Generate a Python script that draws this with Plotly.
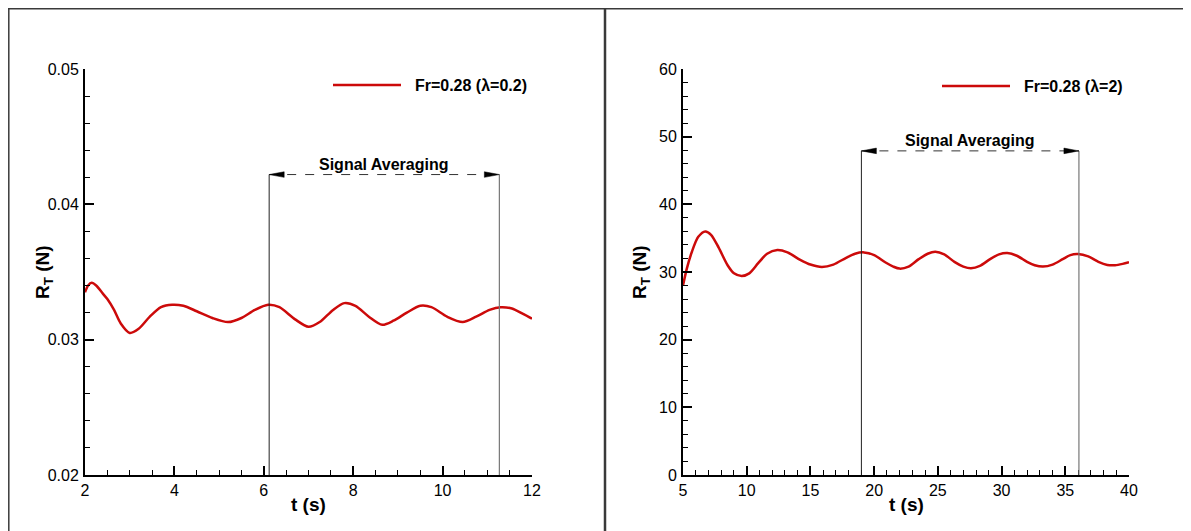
import plotly.graph_objects as go

# ---------------- data ----------------
t_left = [2.0, 2.07, 2.15, 2.25, 2.4, 2.5, 2.65, 2.8, 3.0, 3.2, 3.45, 3.7, 3.95, 4.2, 4.5,
          4.85, 5.2, 5.5, 5.8, 6.1, 6.35, 6.7, 7.0, 7.25, 7.55, 7.8, 8.05, 8.35, 8.65,
          8.9, 9.2, 9.5, 9.75, 10.1, 10.45, 10.75, 11.05, 11.3, 11.55, 11.8, 12.0]
rt_left = [0.0335, 0.0340, 0.0342, 0.0340, 0.0334, 0.0330, 0.0322, 0.0312, 0.0305, 0.0308,
           0.0317, 0.0324, 0.03258, 0.0325, 0.0321, 0.0316, 0.0313, 0.0316, 0.0322, 0.03258,
           0.0324, 0.0315, 0.03095, 0.0313, 0.0322, 0.0327, 0.0325, 0.0317, 0.0311, 0.0314,
           0.0320, 0.0325, 0.0324, 0.0317, 0.0313, 0.0317, 0.0322, 0.0324, 0.0323, 0.0319,
           0.03155]

t_right = [5.0, 5.3, 5.7, 6.2, 6.75, 7.2, 7.8, 8.5, 9.0, 9.6, 10.2, 10.9, 11.6, 12.4, 13.2,
           14.2, 15.0, 15.9, 16.8, 17.8, 18.5, 19.2, 20.0, 20.9, 21.5, 22.0, 22.7, 23.5,
           24.2, 24.8, 25.5, 26.3, 27.0, 27.6, 28.3, 29.1, 29.8, 30.45, 31.2, 32.0, 32.6,
           33.25, 34.0, 34.8, 35.4, 36.0, 36.8, 37.6, 38.3, 38.9, 39.5, 40.0]
rt_right = [28.0, 30.5, 33.0, 35.2, 36.0, 35.5, 33.6, 31.0, 29.8, 29.4, 29.8, 31.3, 32.7,
            33.25, 32.9, 31.8, 31.1, 30.75, 31.1, 32.1, 32.7, 32.9, 32.5, 31.4, 30.8, 30.5,
            30.8, 31.9, 32.7, 33.0, 32.6, 31.5, 30.8, 30.55, 30.9, 31.9, 32.6, 32.8, 32.4,
            31.5, 31.0, 30.8, 31.1, 31.9, 32.5, 32.65, 32.3, 31.5, 31.05, 31.0, 31.2, 31.45]

names = ["Fr=0.28 (λ=0.2)", "Fr=0.28 (λ=2)"]
x_title = "<b>t (s)</b>"
y_title = "<b>R<sub>T</sub> (N)</b>"

# signal averaging windows: start, end, bracket height
avg_left = (6.12, 11.27, 0.0422)
avg_right = (19.0, 36.07, 47.9)
avg_label = "Signal Averaging"

x_ranges = [[2, 12], [5, 40]]
y_ranges = [[0.02, 0.05], [0, 60]]
x_dticks = [2, 5]
x_minor = [0.5, 1]
y_dticks = [0.01, 10]
y_minor = [0.002, 2]

# ---------------- figure ----------------
W, H = 1191, 531
OFF = 8  # page body margin
RED = "#cc0a0a"
FONT = "Liberation Sans, Arial, sans-serif"

fig = go.Figure()
fig.add_trace(go.Scatter(x=t_left, y=rt_left, mode="lines", name=names[0],
                         line=dict(color=RED, width=2.5, shape="spline", smoothing=0.8),
                         xaxis="x", yaxis="y", legend="legend"))
fig.add_trace(go.Scatter(x=t_right, y=rt_right, mode="lines", name=names[1],
                         line=dict(color=RED, width=2.5, shape="spline", smoothing=0.8),
                         xaxis="x2", yaxis="y2", legend="legend2"))

def px_x(p):
    return (p - OFF) / W

def px_y(p):
    return 1 - (p - OFF) / H

doms_x = [[px_x(85), px_x(532)], [px_x(683), px_x(1129)]]
dom_y = [px_y(475), px_y(69)]
title_x = [308.5, 906]
title_y_x = [44, 641]

def axis_common():
    return dict(showline=True, linewidth=2, linecolor="black", mirror=False,
                showgrid=False, zeroline=False, ticks="inside", ticklen=9,
                tickwidth=2, tickcolor="black", automargin=False,
                tickfont=dict(family=FONT, size=16, color="black"))

layout = dict(width=W, height=H, margin=dict(l=0, r=0, t=0, b=0, autoexpand=False),
              autosize=False, paper_bgcolor="white", plot_bgcolor="white", showlegend=True)

for i in range(2):
    xs = "xaxis" if i == 0 else "xaxis2"
    ys = "yaxis" if i == 0 else "yaxis2"
    xa = axis_common()
    xa.update(domain=doms_x[i], range=x_ranges[i], dtick=x_dticks[i], tick0=x_ranges[i][0],
              anchor="y" if i == 0 else "y2",
              minor=dict(ticks="inside", ticklen=5, tickwidth=1, tickcolor="black",
                         dtick=x_minor[i], showgrid=False))
    ya = axis_common()
    ya.update(domain=dom_y, range=y_ranges[i], dtick=y_dticks[i], tick0=y_ranges[i][0],
              anchor="x" if i == 0 else "x2", ticklabelstandoff=1,
              minor=dict(ticks="inside", ticklen=5, tickwidth=1, tickcolor="black",
                         dtick=y_minor[i], showgrid=False))
    if i == 0:
        ya["tickformat"] = ".2f"
    layout[xs] = xa
    layout[ys] = ya

leg_font = dict(family=FONT, size=16, color="black", weight="bold")
layout["legend"] = dict(x=px_x(328), y=px_y(85), xanchor="left", yanchor="middle",
                        bgcolor="rgba(0,0,0,0)", font=leg_font, itemwidth=68)
layout["legend2"] = dict(x=px_x(937), y=px_y(86), xanchor="left", yanchor="middle",
                         bgcolor="rgba(0,0,0,0)", font=leg_font, itemwidth=68)

fig.update_layout(**layout)
fig.update_traces(selector=dict(name=names[0]), name="\u00a0\u00a0" + names[0])
fig.update_traces(selector=dict(name=names[1]), name="\u00a0\u00a0" + names[1])

# axis titles
for i in range(2):
    fig.add_annotation(xref="paper", yref="paper", x=px_x(title_x[i]), y=px_y(504),
                       text=x_title, showarrow=False, xanchor="center", yanchor="middle",
                       font=dict(family=FONT, size=19, color="black"))
    fig.add_annotation(xref="paper", yref="paper", x=px_x(title_y_x[i]), y=px_y(272),
                       text=y_title, showarrow=False, textangle=-90,
                       xanchor="center", yanchor="middle",
                       font=dict(family=FONT, size=19, color="black"))

# signal averaging brackets
for i, (avg, yr) in enumerate([(avg_left, y_ranges[0]), (avg_right, y_ranges[1])]):
    xr = "x" if i == 0 else "x2"
    yref = "y" if i == 0 else "y2"
    x0, x1, ytop = avg
    fig.add_shape(type="line", xref=xr, yref=yref, x0=x0, x1=x0, y0=yr[0], y1=ytop,
                  line=dict(color="#222222", width=1))
    fig.add_shape(type="line", xref=xr, yref=yref, x0=x1, x1=x1, y0=yr[0], y1=ytop,
                  line=dict(color="#777777", width=1.2))
    fig.add_shape(type="line", xref=xr, yref=yref, x0=x0, x1=x1, y0=ytop, y1=ytop,
                  line=dict(color="#333333", width=1, dash="dash"))
    # arrow heads (pixel-sized, anchored at the bracket ends)
    fig.add_shape(type="path", xref=xr, yref=yref, xsizemode="pixel", ysizemode="pixel",
                  xanchor=x0, yanchor=ytop, path="M0,0 L15,-2.8 L15,2.8 Z",
                  fillcolor="black", line=dict(color="black", width=0.5))
    fig.add_shape(type="path", xref=xr, yref=yref, xsizemode="pixel", ysizemode="pixel",
                  xanchor=x1, yanchor=ytop, path="M0,0 L-15,-2.8 L-15,2.8 Z",
                  fillcolor="black", line=dict(color="black", width=0.5))
    fig.add_annotation(xref=xr, yref=yref, x=(x0 + x1) / 2, y=ytop, yshift=0,
                       text="<b>" + avg_label + "</b>", showarrow=False,
                       yanchor="bottom", font=dict(family=FONT, size=16, color="black"))

# frame lines of the composite image
FR = "#3a3a3a"
fig.add_shape(type="line", xref="paper", yref="paper", x0=0, x1=1, y0=1 - 0.8 / H, y1=1 - 0.8 / H,
              line=dict(color=FR, width=1.5))
fig.add_shape(type="line", xref="paper", yref="paper", x0=0.8 / W, x1=0.8 / W, y0=0, y1=1,
              line=dict(color=FR, width=1.5))
fig.add_shape(type="line", xref="paper", yref="paper", x0=px_x(605), x1=px_x(605), y0=0, y1=1,
              line=dict(color=FR, width=2.5))

fig.write_html("out.html")
